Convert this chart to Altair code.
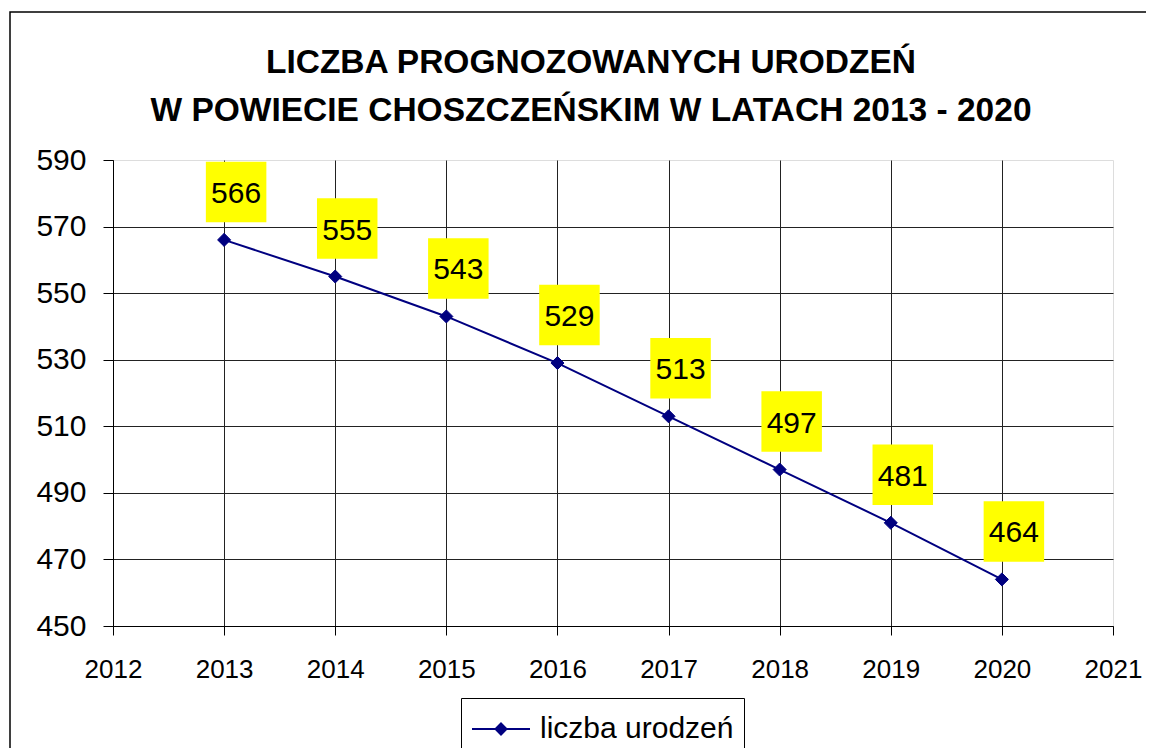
import altair as alt
import pandas as pd

# ---- data ----
years = [2013, 2014, 2015, 2016, 2017, 2018, 2019, 2020]
births = [566, 555, 543, 529, 513, 497, 481, 464]
series_name = "liczba urodzeń"
x_ticks = [2012, 2013, 2014, 2015, 2016, 2017, 2018, 2019, 2020, 2021]
y_ticks = [450, 470, 490, 510, 530, 550, 570, 590]
title_lines = ["LICZBA PROGNOZOWANYCH URODZEŃ",
               "W POWIECIE CHOSZCZEŃSKIM W LATACH 2013 - 2020"]

df = pd.DataFrame({"rok": years, "liczba": births, "seria": [series_name] * len(years)})

FONT = "Liberation Sans"
NAVY = "#000080"
GRID = "#222222"

x_enc = alt.X(
    "rok:Q",
    scale=alt.Scale(domain=[2012, 2021], nice=False, zero=False),
    axis=alt.Axis(values=x_ticks, format="d", title=None,
                  labelFont=FONT, labelFontSize=26, labelColor="black",
                  labelPadding=21, labelFlush=False, labelOverlap=False,
                  tickSize=9, tickColor="black", tickWidth=1,
                  domainColor="black", domainWidth=1,
                  grid=True, gridColor=GRID, gridWidth=1,
                  gridOpacity={"condition": {"test": "datum.value === 2021", "value": 0}, "value": 1}),
)
y_enc = alt.Y(
    "liczba:Q",
    scale=alt.Scale(domain=[450, 590], nice=False, zero=False),
    axis=alt.Axis(values=y_ticks, title=None,
                  labelFont=FONT, labelFontSize=30, labelColor="black",
                  labelPadding=17, labelFlush=False, labelOverlap=False,
                  tickSize=10, tickColor="black", tickWidth=1,
                  domainColor="black", domainWidth=1,
                  grid=True, gridColor=GRID, gridWidth=1,
                  gridOpacity={"condition": {"test": "datum.value === 590", "value": 0}, "value": 1}),
)

base = alt.Chart(df).encode(x=x_enc, y=y_enc)

legend_symbol = "M-1,0H1.9M0.45,-0.275L0.725,0L0.45,0.275L0.175,0Z"

line = base.mark_line(strokeWidth=2).encode(
    color=alt.Color("seria:N", scale=alt.Scale(range=[NAVY]),
                    legend=alt.Legend(title=None, orient="none", legendX=348, legendY=538,
                                      padding=10, strokeColor="black", fillColor="white",
                                      symbolType=legend_symbol, symbolSize=1600,
                                      symbolStrokeWidth=2, symbolFillColor=NAVY,
                                      symbolStrokeColor=NAVY,
                                      labelFont=FONT, labelFontSize=30, labelColor="black",
                                      labelOffset=27, labelLimit=500))
)
points = base.mark_point(shape="diamond", filled=True, size=170, color=NAVY,
                         opacity=1, stroke=NAVY, strokeWidth=1)
boxes = base.mark_point(shape="square", filled=True, size=3660, color="#FFFF00",
                        opacity=1, xOffset=12, yOffset=-48)
labels = base.mark_text(font=FONT, fontSize=30, color="black", align="center",
                        baseline="middle", xOffset=12, yOffset=-46).encode(text="liczba:Q")

frame = alt.Chart(pd.DataFrame({"k": [0]})).mark_rect(
    fillOpacity=0, stroke="black", strokeWidth=1.5
).encode(x=alt.value(-103), x2=alt.value(1200), y=alt.value(-148), y2=alt.value(900))

chart = alt.layer(frame, line, points, boxes, labels).properties(
    width=1000,
    height=466,
    title=alt.TitleParams(text=title_lines, font=FONT, fontSize=33.5, fontWeight="bold",
                          color="black", anchor="middle", dx=-22, lineHeight=48,
                          baseline="alphabetic", offset=-143),
    autosize=alt.AutoSizeParams(type="none"),
    padding={"left": 105, "top": 152, "right": 33, "bottom": 122},
).configure_view(
    fill="#CCFFCC", stroke="#808080", strokeWidth=2
).configure(background="white")

chart.save("out.html", embed_options={"renderer": "svg", "actions": False})
